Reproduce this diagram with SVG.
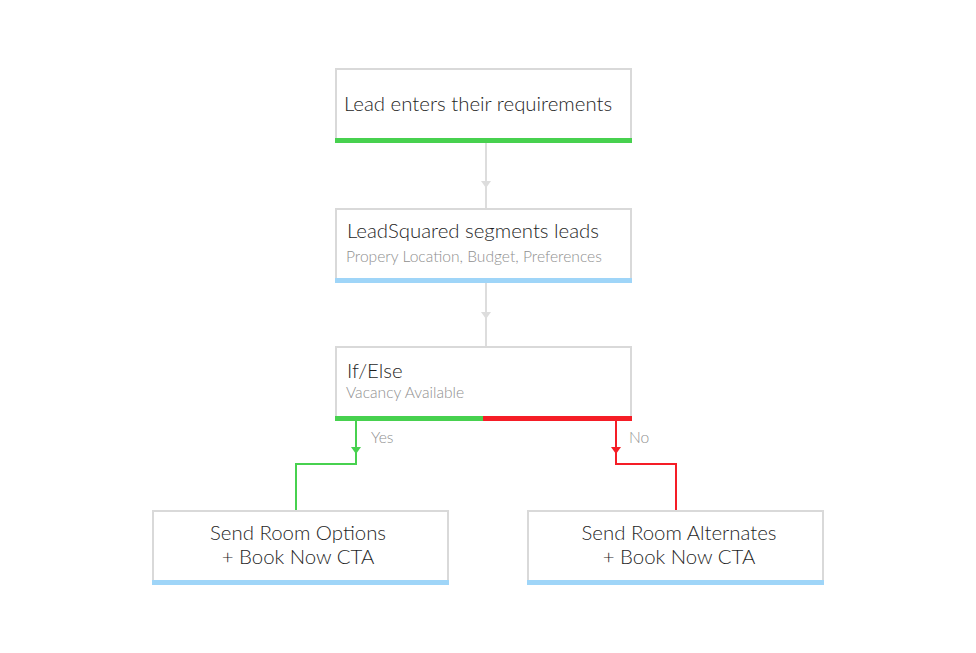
<svg xmlns="http://www.w3.org/2000/svg" width="976" height="653" viewBox="0 0 976 653">
<style>
.box{fill:#fff;stroke:#d9d9d9;stroke-width:2}
.t{font-family:Lato,"Open Sans","Liberation Sans",sans-serif;font-size:20.4px;font-weight:300;fill:#1f1f1f}
.s{font-family:Lato,"Open Sans","Liberation Sans",sans-serif;font-size:15.6px;font-weight:300;fill:#8f8f8f}
.c{fill:none;stroke-width:2}
</style>
<rect width="976" height="653" fill="#fff"/>
<g id="connectors">
<line class="c" x1="486" y1="143" x2="486" y2="209" stroke="#dddddd"/>
<path d="M481,181 L491,181 L486,188 Z" fill="#dddddd"/>
<line class="c" x1="486" y1="283" x2="486" y2="347" stroke="#dddddd"/>
<path d="M481,312 L491,312 L486,319 Z" fill="#dddddd"/>
<polyline class="c" points="356,421 356,464 296,464 296,511" stroke="#47d14f"/>
<path d="M351,447 L361,447 L356,454 Z" fill="#47d14f"/>
<text class="s" x="371" y="443">Yes</text>
<polyline class="c" points="616,421 616,464 676,464 676,511" stroke="#f51d26"/>
<path d="M611,447 L621,447 L616,454 Z" fill="#f51d26"/>
<text class="s" x="629" y="443">No</text>
</g>
<g id="n1">
<rect class="box" x="336" y="69" width="295" height="71"/>
<rect x="335" y="138" width="297" height="5" fill="#47d14f"/>
<text class="t" x="344" y="111">Lead enters their requirements</text>
</g>
<g id="n2">
<rect class="box" x="336" y="209" width="295" height="71"/>
<rect x="335" y="278" width="297" height="5" fill="#9fd5f8"/>
<text class="t" x="347" y="238">LeadSquared segments leads</text>
<text class="s" x="346" y="262">Propery Location, Budget, Preferences</text>
</g>
<g id="n3">
<rect class="box" x="336" y="347" width="295" height="71"/>
<rect x="335" y="416" width="148" height="5" fill="#47d14f"/>
<rect x="483" y="416" width="149" height="5" fill="#f51d26"/>
<text class="t" x="347" y="378">If/Else</text>
<text class="s" x="346" y="398">Vacancy Available</text>
</g>
<g id="n4">
<rect class="box" x="153" y="511" width="295" height="71"/>
<rect x="152" y="580" width="297" height="5" fill="#9fd5f8"/>
<text class="t" x="298" y="540" text-anchor="middle">Send Room Options</text>
<text class="t" x="298" y="564" text-anchor="middle">+ Book Now CTA</text>
</g>
<g id="n5">
<rect class="box" x="528" y="511" width="295" height="71"/>
<rect x="527" y="580" width="297" height="5" fill="#9fd5f8"/>
<text class="t" x="679" y="540" text-anchor="middle">Send Room Alternates</text>
<text class="t" x="679" y="564" text-anchor="middle">+ Book Now CTA</text>
</g>
</svg>
